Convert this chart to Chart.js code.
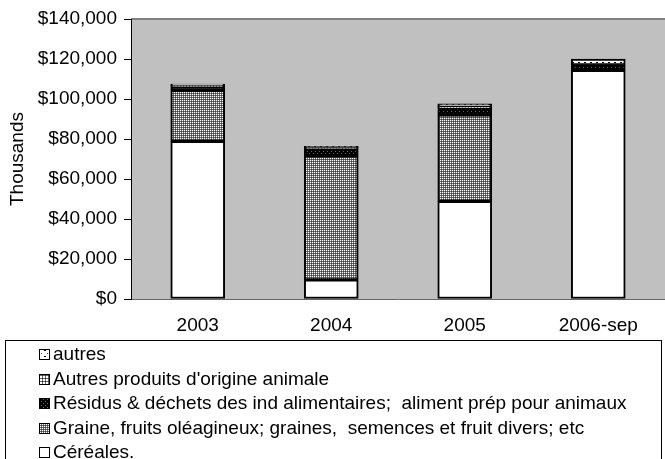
<!DOCTYPE html>
<html>
<head>
<meta charset="utf-8">
<script src="https://cdn.jsdelivr.net/npm/chart.js@4/dist/chart.umd.min.js"></script>
<style>
  html, body { margin: 0; padding: 0; background: #fff; }
  #wrap { width: 665px; height: 459px; }
</style>
</head>
<body>
<div id="wrap"><canvas id="chart" width="665" height="459"></canvas></div>
<script>
// ---- Data (values in thousands of $) ----------------------
const categories = ["2003", "2004", "2005", "2006-sep"];
const cereales   = [78800, 9600, 48800, 114300];
const graines    = [25500, 62000, 43300, 0];
const residus    = [1800, 3500, 3400, 2500];
const animaux    = [600, 600, 700, 200];
const autres     = [800, 600, 1400, 3000];
const seriesNames = [
  "Céréales.",
  "Graine, fruits oléagineux; graines,  semences et fruit divers; etc",
  "Résidus & déchets des ind alimentaires;  aliment prép pour animaux",
  "Autres produits d'origine animale",
  "autres",
];
const yMin = 0, yMax = 140000, yStep = 20000;

const FONT = "'Liberation Sans', Arial, sans-serif";
const FSIZE = 19;

// ---- Fill patterns -----------------------------------------
function makePattern(size, base, dots) {
  const c = document.createElement("canvas");
  c.width = size; c.height = size;
  const g = c.getContext("2d");
  g.fillStyle = base;
  g.fillRect(0, 0, size, size);
  dots.forEach(([x, y, col]) => { g.fillStyle = col; g.fillRect(x, y, 1, 1); });
  return g.createPattern(c, "repeat");
}
const ctx = document.getElementById("chart").getContext("2d");
const fills = [
  "#ffffff",
  makePattern(2, "#707070", [[0, 0, "#fff"], [1, 1, "#404040"]]),
  makePattern(4, "#000000", [[1, 1, "#666"], [3, 3, "#666"]]),
  makePattern(3, "#ffffff", [[0, 0, "#333"], [1, 0, "#666"], [2, 0, "#666"], [0, 1, "#666"], [0, 2, "#666"]]),
  makePattern(6, "#ffffff", [[2, 2, "#000"], [3, 2, "#000"], [5, 5, "#555"]]),
];
const seriesData = [cereales, graines, residus, animaux, autres];

// ---- Plugins -----------------------------------------------
const plotBg = {
  id: "plotBg",
  beforeDraw(chart) {
    const { ctx, chartArea: a } = chart;
    ctx.save();
    ctx.fillStyle = "#c0c0c0";
    ctx.fillRect(a.left, a.top, a.right - a.left, a.bottom - a.top);
    ctx.strokeStyle = "#808080";
    ctx.lineWidth = 2;
    ctx.beginPath();
    ctx.moveTo(a.left, a.top);
    ctx.lineTo(a.right, a.top);
    ctx.stroke();
    ctx.restore();
  },
};

const boxLegend = {
  id: "boxLegend",
  afterDraw(chart) {
    const { ctx } = chart;
    ctx.save();
    ctx.strokeStyle = "#000";
    ctx.lineWidth = 1;
    ctx.strokeRect(5.5, 340.5, 656, 140);
    ctx.font = `${FSIZE}px ${FONT}`;
    ctx.textBaseline = "middle";
    const order = [4, 3, 2, 1, 0];
    order.forEach((i, row) => {
      const cy = 354 + row * 24.5;
      const top = Math.round(cy - 5);
      ctx.fillStyle = fills[i];
      ctx.fillRect(39, top, 10, 10);
      ctx.strokeStyle = "#000";
      ctx.strokeRect(39.5, top + 0.5, 10, 10);
      ctx.fillStyle = "#000";
      ctx.fillText(seriesNames[i], 53, cy + 1);
    });
    ctx.restore();
  },
};

// ---- Chart -------------------------------------------------
new Chart(ctx, {
  type: "bar",
  data: {
    labels: categories,
    datasets: seriesData.map((d, i) => ({
      label: seriesNames[i],
      data: d,
      backgroundColor: fills[i],
      borderColor: "#000",
      borderWidth: 2,
      borderSkipped: false,
      barThickness: 54,
    })),
  },
  options: {
    responsive: false,
    animation: false,
    layout: { padding: { top: 19, right: -2, bottom: 120, left: 0 } },
    plugins: {
      legend: { display: false },
      tooltip: { enabled: false },
    },
    scales: {
      x: {
        stacked: true,
        grid: { display: false, drawTicks: false },
        border: { display: true, color: "#666", width: 1 },
        ticks: { color: "#000", font: { family: FONT, size: FSIZE }, padding: 15 },
        afterFit: (s) => { s.height = 40; },
      },
      y: {
        stacked: true,
        min: yMin,
        max: yMax,
        grid: { display: true, drawOnChartArea: false, drawTicks: true, tickLength: 7, color: "#000" },
        border: { display: true, color: "#000", width: 1 },
        ticks: {
          stepSize: yStep,
          color: "#000",
          padding: 7,
          font: { family: FONT, size: FSIZE },
          callback: (v) => "$" + v.toLocaleString("en-US"),
        },
        title: {
          display: true,
          text: "Thousands",
          color: "#000",
          font: { family: FONT, size: FSIZE },
          padding: { top: 6, bottom: 0 },
        },
        afterFit: (s) => { s.width = 131; },
      },
    },
  },
  plugins: [plotBg, boxLegend],
});
</script>
</body>
</html>
